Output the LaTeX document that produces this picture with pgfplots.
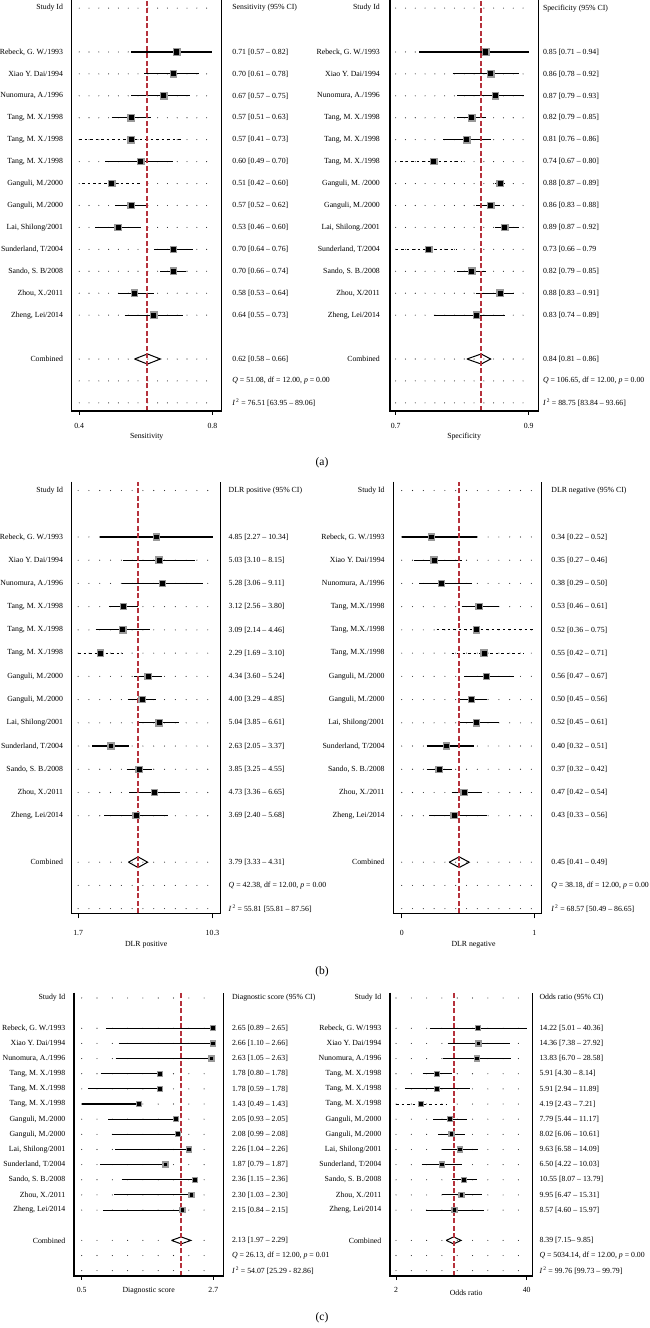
\documentclass[border=0pt]{standalone}
\usepackage{pgfplots}
\pgfplotsset{compat=1.18}
\usepackage{pgfplotstable}
\usepackage{fontspec}
\setmainfont{Liberation Serif}
\newcommand\fs{\fontsize{7.8}{9}\selectfont}
\definecolor{refred}{RGB}{181,50,60}

% y: row position (18 = header, 16..4 = studies); ci: 1 solid, 2 dashed
\pgfplotstableread{
y est lo hi ci
16 0.71 0.57 0.82 1
15 0.70 0.61 0.78 1
14 0.67 0.57 0.75 1
13 0.57 0.51 0.63 1
12 0.57 0.41 0.73 2
11 0.60 0.49 0.70 1
10 0.51 0.42 0.60 2
9 0.57 0.52 0.62 1
8 0.53 0.46 0.60 1
7 0.70 0.64 0.76 1
6 0.70 0.66 0.74 1
5 0.58 0.53 0.64 1
4 0.64 0.55 0.73 1
}\tSens
\pgfplotstableread{
y est lo hi ci
16 0.85 0.71 0.94 1
15 0.86 0.78 0.92 1
14 0.87 0.79 0.93 1
13 0.82 0.79 0.85 1
12 0.81 0.76 0.86 1
11 0.74 0.67 0.80 2
10 0.88 0.87 0.89 1
9 0.86 0.83 0.88 1
8 0.89 0.87 0.92 1
7 0.73 0.66 0.79 2
6 0.82 0.79 0.85 1
5 0.88 0.83 0.91 1
4 0.83 0.74 0.89 1
}\tSpec
\pgfplotstableread{
y est lo hi ci
16 4.85 2.27 10.34 1
15 5.03 3.10 8.15 1
14 5.28 3.06 9.11 1
13 3.12 2.56 3.80 1
12 3.09 2.14 4.46 1
11 2.29 1.69 3.10 2
10 4.34 3.60 5.24 1
9 4.00 3.29 4.85 1
8 5.04 3.85 6.61 1
7 2.63 2.05 3.37 1
6 3.85 3.25 4.55 1
5 4.73 3.36 6.65 1
4 3.69 2.40 5.68 1
}\tDLRp
\pgfplotstableread{
y est lo hi ci
16 0.34 0.22 0.52 1
15 0.35 0.27 0.46 1
14 0.38 0.29 0.50 1
13 0.53 0.46 0.61 1
12 0.52 0.36 0.75 2
11 0.55 0.42 0.71 2
10 0.56 0.47 0.67 1
9 0.50 0.45 0.56 1
8 0.52 0.45 0.61 1
7 0.40 0.32 0.51 1
6 0.37 0.32 0.42 1
5 0.47 0.42 0.54 1
4 0.43 0.33 0.56 1
}\tDLRn
\pgfplotstableread{
y est lo hi ci
16 2.65 0.89 2.65 1
15 2.66 1.10 2.66 1
14 2.63 1.05 2.63 1
13 1.78 0.80 1.78 1
12 1.78 0.59 1.78 1
11 1.43 0.49 1.43 1
10 2.05 0.93 2.05 1
9 2.08 0.99 2.08 1
8 2.26 1.04 2.26 1
7 1.87 0.79 1.87 1
6 2.36 1.15 2.36 1
5 2.30 1.03 2.30 1
4 2.15 0.84 2.15 1
}\tDS
\pgfplotstableread{
y est lo hi ci
16 14.22 5.01 40.36 1
15 14.36 7.38 27.92 1
14 13.83 6.70 28.58 1
13 5.91 4.30 8.14 1
12 5.91 2.94 11.89 1
11 4.19 2.43 7.21 2
10 7.79 5.44 11.17 1
9 8.02 6.06 10.61 1
8 9.63 6.58 14.09 1
7 6.50 4.22 10.03 1
6 10.55 8.07 13.79 1
5 9.95 6.47 15.31 1
4 8.57 4.60 15.97 1
}\tOR

\tikzset{rowdot/.style={black!85, line width=1.1pt, line cap=round, dash pattern=on 0pt off #1}}
\pgfplotsset{
  fp/.style={
    scale only axis, anchor=south west, clip=false,
    axis line style={draw=none},
    tick align=outside, major tick length=4pt,
    xtick pos=left, ytick pos=left,
    ytick style={draw=none},
    xtick style={black, line width=0.8pt},
    tick label style={font=\fs},
    yticklabel style={anchor=east, inner sep=0pt, xshift=-4.5pt},
    xticklabel style={anchor=center, inner sep=0pt},
    xlabel style={font=\fs, at={(axis description cs:0.5,0)}, anchor=center},
    ytick={2,4,5,6,7,8,9,10,11,12,13,14,15,16,18},
  },
  fpr/.style={
    scale only axis, anchor=south west, clip=false,
    axis line style={draw=none},
    xmin=0, xmax=1, xtick=\empty,
    ytick pos=right, yticklabel pos=right,
    ytick style={draw=none},
    tick label style={font=\fs},
    yticklabel style={anchor=west, inner sep=0pt, xshift=4.5pt},
    ytick={0,1,2,4,5,6,7,8,9,10,11,12,13,14,15,16,18},
  },
  ci1/.style={draw=black, line width=1.1pt, solid, mark=none, forget plot},
  ci2/.style={draw=black, line width=0.8pt, dash pattern=on 2.5pt off 3pt, mark=none, forget plot},
  sq/.style={only marks, mark=square*, mark size=#1, mark options={fill=black, draw=black!40, line width=1.3pt, solid}},
  diam/.style={draw=black, line width=1pt, solid, mark=none},
}
\newcommand\axlines{\draw[black, line width=1.1pt, solid] (rel axis cs:0,1) -- (rel axis cs:0,0) -- (rel axis cs:1,0) -- (rel axis cs:1,1);}
% pooled-estimate reference line: #1 = pooled estimate, #2 = ymin, #3 = ymax
\newcommand\pooled[3]{\draw[color=refred, line width=1.9pt, dash pattern=on 5pt off 2.5pt, line cap=butt] (axis cs:#1,#2) -- (axis cs:#1,#3);}
% confidence intervals: one segment lo--hi per row of the table
\newcommand\cilines[1]{%
  \pgfplotsinvokeforeach{0,1,2,3,4,5,6,7,8,9,10,11,12}{%
    \pgfplotstablegetelem{##1}{lo}\of{#1}\let\vlo\pgfplotsretval
    \pgfplotstablegetelem{##1}{hi}\of{#1}\let\vhi\pgfplotsretval
    \pgfplotstablegetelem{##1}{y}\of{#1}\let\vy\pgfplotsretval
    \pgfplotstablegetelem{##1}{ci}\of{#1}\let\vci\pgfplotsretval
    \edef\tmpci{\noexpand\addplot[ci\vci] coordinates {(\vlo,\vy) (\vhi,\vy)};}\tmpci
  }}

\begin{document}
\begin{tikzpicture}[x=1pt,y=1pt]
\useasboundingbox (0,0) rectangle (649,1328);

% ================= (a) left: Sensitivity
\begin{axis}[fp, at={(71.7pt,917pt)}, width=150pt, height=411pt,
  ymin=-0.37, ymax=18.37, xmin=0.3869, xmax=0.8485,
  xtick={0.41,0.82}, xticklabels={0.4,0.8}, xticklabel style={yshift=-11pt},
  xlabel={Sensitivity}, xlabel style={yshift=-26pt},
  yticklabels={Combined,{Zheng, Lei/2014},{Zhou, X./2011},{Sando, S. B/2008},{Sunderland, T/2004},{Lai, Shilong/2001},{Ganguli, M./2000},{Ganguli, M./2000},{Tang, M. X./1998},{Tang, M. X./1998},{Tang, M. X./1998},{Nunomura, A./1996},{Xiao Y. Dai/1994},{Rebeck, G. W./1993},Study Id}]
\pgfplotsinvokeforeach{0,1,2,4,5,6,7,8,9,10,11,12,13,14,15,16,18}{\draw[rowdot=9.8pt] (axis cs:0.41,#1) -- (axis cs:0.82,#1);}
\cilines{\tSens}
\addplot[diam] coordinates {(0.58,2) (0.62,2.23) (0.66,2) (0.62,1.77) (0.58,2)};
\pooled{0.62}{-0.37}{18.37}
\addplot[sq=3.2pt] table[x=est,y=y] {\tSens};
\axlines
\end{axis}
\begin{axis}[fpr, at={(71.7pt,917pt)}, width=150pt, height=411pt, ymin=-0.37, ymax=18.37,
  yticklabel style={xshift=6pt},
  yticklabels={{\textit{I}\textsuperscript{\,2} = 76.51 [63.95 -- 89.06]},{\textit{Q} = 51.08, df = 12.00, \textit{p} = 0.00},{0.62 [0.58 -- 0.66]},{0.64 [0.55 -- 0.73]},{0.58 [0.53 -- 0.64]},{0.70 [0.66 -- 0.74]},{0.70 [0.64 -- 0.76]},{0.53 [0.46 -- 0.60]},{0.57 [0.52 -- 0.62]},{0.51 [0.42 -- 0.60]},{0.60 [0.49 -- 0.70]},{0.57 [0.41 -- 0.73]},{0.57 [0.51 -- 0.63]},{0.67 [0.57 -- 0.75]},{0.70 [0.61 -- 0.78]},{0.71 [0.57 -- 0.82]},{Sensitivity (95\% CI)}}]
\end{axis}

% ================= (a) right: Specificity
\begin{axis}[fp, at={(390pt,917pt)}, width=148.3pt, height=411pt,
  ymin=-0.37, ymax=18.37, xmin=0.6481, xmax=0.9603,
  xtick={0.66,0.94}, xticklabels={0.7,0.9}, xticklabel style={yshift=-11pt},
  xlabel={Specificity}, xlabel style={yshift=-26pt},
  yticklabel style={xshift=-1.5pt},
  yticklabels={Combined,{Zheng, Lei/2014},{Zhou, X/2011},{Sando, S. B./2008},{Sunderland, T/2004},{Lai, Shilong./2001},{Ganguli, M./2000},{Ganguli, M. /2000},{Tang, M. X./1998},{Tang, M. X./1998},{Tang, M. X./1998},{Nunomura, A./1996},{Xiao Y. Dai/1994},{Rebeck, G. W./1993},Study Id}]
\pgfplotsinvokeforeach{0,1,2,4,5,6,7,8,9,10,11,12,13,14,15,16,18}{\draw[rowdot=9.8pt] (axis cs:0.66,#1) -- (axis cs:0.94,#1);}
\cilines{\tSpec}
\addplot[diam] coordinates {(0.81,2) (0.84,2.23) (0.86,2) (0.84,1.77) (0.81,2)};
\pooled{0.84}{-0.37}{18.37}
\addplot[sq=3.2pt] table[x=est,y=y] {\tSpec};
\axlines
\end{axis}
\begin{axis}[fpr, at={(390pt,917pt)}, width=148.3pt, height=411pt, ymin=-0.37, ymax=18.37,
  yticklabels={{\textit{I}\textsuperscript{\,2} = 88.75 [83.84 -- 93.66]},{\textit{Q} = 106.65, df = 12.00, \textit{p} = 0.00},{0.84 [0.81 -- 0.86]},{0.83 [0.74 -- 0.89]},{0.88 [0.83 -- 0.91]},{0.82 [0.79 -- 0.85]},{0.73 [0.66 -- 0.79},{0.89 [0.87 -- 0.92]},{0.86 [0.83 -- 0.88]},{0.88 [0.87 -- 0.89]},{0.74 [0.67 -- 0.80]},{0.81 [0.76 -- 0.86]},{0.82 [0.79 -- 0.85]},{0.87 [0.79 -- 0.93]},{0.86 [0.78 -- 0.92]},{0.85 [0.71 -- 0.94]},{Specificity (95\% CI)}}]
\end{axis}

% ================= (b) left: DLR positive
\begin{axis}[fp, at={(71.7pt,414.7pt)}, width=149pt, height=431.6pt,
  ymin=-0.2, ymax=18.38, xmode=log, xmin=1.5496, xmax=11.544,
  xtick={1.69,10.34}, xticklabels={1.7,10.3}, xticklabel style={yshift=-15pt},
  major tick length=5pt,
  xlabel={DLR positive}, xlabel style={yshift=-31pt},
  yticklabel style={xshift=1pt},
  yticklabels={Combined,{Zheng, Lei/2014},{Zhou, X./2011},{Sando, S. B./2008},{Sunderland, T/2004},{Lai, Shilong/2001},{Ganguli, M./2000},{Ganguli, M./2000},{Tang, M. X./1998},{Tang, M. X./1998},{Tang, M. X./1998},{Nunomura, A./1996},{Xiao Y. Dai/1994},{Rebeck, G. W./1993},Study Id}]
\pgfplotsinvokeforeach{0,1,2,4,5,6,7,8,9,10,11,12,13,14,15,16,18}{\draw[rowdot=10.8pt] (axis cs:1.69,#1) -- (axis cs:10.34,#1);}
\cilines{\tDLRp}
\addplot[diam] coordinates {(3.33,2) (3.79,2.23) (4.31,2) (3.79,1.77) (3.33,2)};
\pooled{3.79}{-0.2}{18.38}
\addplot[sq=3.1pt] table[x=est,y=y] {\tDLRp};
\axlines
\end{axis}
\begin{axis}[fpr, at={(71.7pt,414.7pt)}, width=149pt, height=431.6pt, ymin=-0.2, ymax=18.38,
  yticklabel style={xshift=3.3pt},
  yticklabels={{\textit{I}\textsuperscript{\,2} = 55.81 [55.81 -- 87.56]},{\textit{Q} = 42.38, df = 12.00, \textit{p} = 0.00},{3.79 [3.33 -- 4.31]},{3.69 [2.40 -- 5.68]},{4.73 [3.36 -- 6.65]},{3.85 [3.25 -- 4.55]},{2.63 [2.05 -- 3.37]},{5.04 [3.85 -- 6.61]},{4.00 [3.29 -- 4.85]},{4.34 [3.60 -- 5.24]},{2.29 [1.69 -- 3.10]},{3.09 [2.14 -- 4.46]},{3.12 [2.56 -- 3.80]},{5.28 [3.06 -- 9.11]},{5.03 [3.10 -- 8.15]},{4.85 [2.27 -- 10.34]},{DLR positive (95\% CI)}}]
\end{axis}

% ================= (b) right: DLR negative
\begin{axis}[fp, at={(393.3pt,414.7pt)}, width=148.4pt, height=431.6pt,
  ymin=-0.2, ymax=18.38, xmin=0.1864, xmax=0.78,
  xtick={0.22,0.75}, xticklabels={0,1}, xticklabel style={yshift=-15pt},
  major tick length=5pt,
  xlabel={DLR negative}, xlabel style={yshift=-31pt, xshift=6pt},
  yticklabel style={xshift=1pt},
  yticklabels={Combined,{Zheng, Lei/2014},{Zhou, X./2011},{Sando, S. B./2008},{Sunderland, T/2004},{Lai, Shilong/2001},{Ganguli, M./2000},{Ganguli, M./2000},{Tang, M.X./1998},{Tang, M.X./1998},{Tang, M.X./1998},{Nunomura, A./1996},{Xiao Y. Dai/1994},{Rebeck, G. W./1993},Study Id}]
\pgfplotsinvokeforeach{0,1,2,4,5,6,7,8,9,10,11,12,13,14,15,16,18}{\draw[rowdot=10.8pt] (axis cs:0.22,#1) -- (axis cs:0.75,#1);}
\cilines{\tDLRn}
\addplot[diam] coordinates {(0.41,2) (0.45,2.23) (0.49,2) (0.45,1.77) (0.41,2)};
\pooled{0.45}{-0.2}{18.38}
\addplot[sq=3.1pt] table[x=est,y=y] {\tDLRn};
\axlines
\end{axis}
\begin{axis}[fpr, at={(393.3pt,414.7pt)}, width=148.4pt, height=431.6pt, ymin=-0.2, ymax=18.38,
  yticklabel style={xshift=5pt},
  yticklabels={{\textit{I}\textsuperscript{\,2} = 68.57 [50.49 -- 86.65]},{\textit{Q} = 38.18, df = 12.00, \textit{p} = 0.00},{0.45 [0.41 -- 0.49]},{0.43 [0.33 -- 0.56]},{0.47 [0.42 -- 0.54]},{0.37 [0.32 -- 0.42]},{0.40 [0.32 -- 0.51]},{0.52 [0.45 -- 0.61]},{0.50 [0.45 -- 0.56]},{0.56 [0.47 -- 0.67]},{0.55 [0.42 -- 0.71]},{0.52 [0.36 -- 0.75]},{0.53 [0.46 -- 0.61]},{0.38 [0.29 -- 0.50]},{0.35 [0.27 -- 0.46]},{0.34 [0.22 -- 0.52]},{DLR negative (95\% CI)}}]
\end{axis}

% ================= (c) left: Diagnostic score
\begin{axis}[fp, at={(74pt,52pt)}, width=149.3pt, height=283.3pt,
  ymin=-0.35, ymax=18.35, xmin=0.363, xmax=2.825,
  xtick={0.49,2.66}, xticklabels={0.5,2.7}, xticklabel style={yshift=-9.7pt},
  xlabel={Diagnostic score}, xlabel style={yshift=-15pt},
  yticklabels={Combined,{Zheng, Lei/2014},{Zhou, X./2011},{Sando, S. B./2008},{Sunderland, T/2004},{Lai, Shilong/2001},{Ganguli, M./2000},{Ganguli, M./2000},{Tang, M. X./1998},{Tang, M. X./1998},{Tang, M. X./1998},{Nunomura, A./1996},{Xiao Y. Dai/1994},{Rebeck, G. W./1993},Study Id}]
\pgfplotsinvokeforeach{0,1,2,4,5,6,7,8,9,10,11,12,13,14,15,16,18}{\draw[rowdot=15.3pt] (axis cs:0.49,#1) -- (axis cs:2.66,#1);}
\cilines{\tDS}
\addplot[diam] coordinates {(1.97,2) (2.13,2.23) (2.29,2) (2.13,1.77) (1.97,2)};
\pooled{2.13}{-0.35}{18.35}
\addplot[sq=2.5pt] table[x=est,y=y] {\tDS};
\axlines
\end{axis}
\begin{axis}[fpr, at={(74pt,52pt)}, width=149.3pt, height=283.3pt, ymin=-0.35, ymax=18.35,
  yticklabel style={xshift=4pt},
  yticklabels={{\textit{I}\textsuperscript{\,2} = 54.07 [25.29 - 82.86]},{\textit{Q} = 26.13, df = 12.00, \textit{p} = 0.01},{2.13 [1.97 -- 2.29]},{2.15 [0.84 -- 2.15]},{2.30 [1.03 -- 2.30]},{2.36 [1.15 -- 2.36]},{1.87 [0.79 -- 1.87]},{2.26 [1.04 -- 2.26]},{2.08 [0.99 -- 2.08]},{2.05 [0.93 -- 2.05]},{1.43 [0.49 -- 1.43]},{1.78 [0.59 -- 1.78]},{1.78 [0.80 -- 1.78]},{2.63 [1.05 -- 2.63]},{2.66 [1.10 -- 2.66]},{2.65 [0.89 -- 2.65]},{Diagnostic score (95\% CI)}}]
\end{axis}

% ================= (c) right: Odds ratio
\begin{axis}[fp, at={(390pt,52pt)}, width=142.3pt, height=283.3pt,
  ymin=-0.35, ymax=18.35, xmode=log, xmin=2.136, xmax=45.55,
  xtick={2.43,40.36}, xticklabels={2,40}, xticklabel style={yshift=-9.7pt},
  xlabel={Odds ratio}, xlabel style={yshift=-16.7pt, xshift=5pt},
  yticklabels={Combined,{Zheng, Lei/2014},{Zhou, X./2011},{Sando, S. B./2008},{Sunderland, T/2004},{Lai, Shilong/2001},{Ganguli, M./2000},{Ganguli, M./2000},{Tang, M. X./1998},{Tang, M. X./1998},{Tang, M. X./1998},{Nunomura, A./1996},{Xiao Y. Dai/1994},{Rebeck, G. W/1993},Study Id}]
\pgfplotsinvokeforeach{0,1,2,4,5,6,7,8,9,10,11,12,13,14,15,16,18}{\draw[rowdot=15.3pt] (axis cs:2.43,#1) -- (axis cs:40.36,#1);}
\cilines{\tOR}
\addplot[diam] coordinates {(7.15,2) (8.39,2.23) (9.85,2) (8.39,1.77) (7.15,2)};
\pooled{8.39}{-0.35}{18.35}
\addplot[sq=2.5pt] table[x=est,y=y] {\tOR};
\axlines
\end{axis}
\begin{axis}[fpr, at={(390pt,52pt)}, width=142.3pt, height=283.3pt, ymin=-0.35, ymax=18.35,
  yticklabel style={xshift=2.5pt},
  yticklabels={{\textit{I}\textsuperscript{\,2} = 99.76 [99.73 -- 99.79]},{\textit{Q} = 5034.14, df = 12.00, \textit{p} = 0.00},{8.39 [7.15-- 9.85]},{8.57 [4.60 -- 15.97]},{9.95 [6.47 -- 15.31]},{10.55 [8.07 -- 13.79]},{6.50 [4.22 -- 10.03]},{9.63 [6.58 -- 14.09]},{8.02 [6.06 -- 10.61]},{7.79 [5.44 -- 11.17]},{4.19 [2.43 -- 7.21]},{5.91 [2.94 -- 11.89]},{5.91 [4.30 -- 8.14]},{13.83 [6.70 -- 28.58]},{14.36 [7.38 -- 27.92]},{14.22 [5.01 -- 40.36]},{Odds ratio (95\% CI)}}]
\end{axis}

\node[font=\fontsize{11.5}{13}\selectfont] at (322,865) {(a)};
\node[font=\fontsize{11.5}{13}\selectfont] at (322,356.3) {(b)};
\node[font=\fontsize{11.5}{13}\selectfont] at (322,10) {(c)};
\end{tikzpicture}
\end{document}
